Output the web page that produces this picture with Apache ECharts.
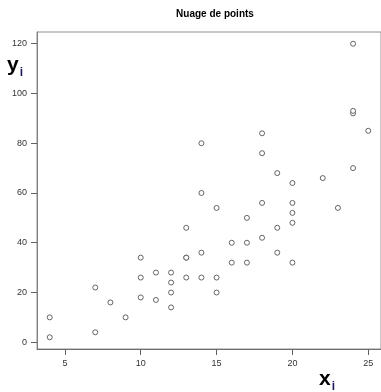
<!DOCTYPE html>
<html><head><meta charset="utf-8">
<script src="https://cdn.jsdelivr.net/npm/echarts@6/dist/echarts.min.js"></script>
<style>html,body{margin:0;padding:0;background:#fff}#c{width:381px;height:392px}</style>
</head><body><div id="c"></div>
<script>
var xValues = [4,4,7,7,8,9,10,10,10,11,11,12,12,12,12,13,13,13,13,14,14,14,14,15,15,15,16,16,17,17,17,18,18,18,18,19,19,19,20,20,20,20,20,22,23,24,24,24,24,25];
var yValues = [2,10,4,22,16,10,18,26,34,17,28,14,20,24,28,26,34,34,46,26,36,60,80,20,26,54,32,40,32,40,50,42,56,76,84,36,46,68,32,48,52,56,64,66,54,70,92,93,120,85];
var xTicks = [5,10,15,20,25];
var yTicks = [0,20,40,60,80,100,120];
var titleText = 'Nuage de points';

var pts = xValues.map(function(x,i){return [x,yValues[i]];});
var chart = echarts.init(document.getElementById('c'));
var font = 'Liberation Sans, Arial, sans-serif';
chart.setOption({
  animation:false,
  backgroundColor:'#fff',
  title:{text:titleText,left:210,top:4,textAlign:'center',
    textStyle:{fontSize:10,fontWeight:'bold',color:'#000',fontFamily:font}},
  grid:{left:37,top:32,width:346,height:317,show:true,borderColor:'#909090',borderWidth:1,containLabel:false},
  xAxis:{type:'value',min:3.16,max:25.84,
    axisLine:{show:true,onZero:false,lineStyle:{color:'#707070'}},
    axisTick:{show:true,inside:false,length:6,customValues:xTicks,lineStyle:{color:'#606060'}},
    axisLabel:{customValues:xTicks,color:'#333',fontSize:9,fontFamily:font,margin:10},
    splitLine:{show:false}},
  yAxis:{type:'value',min:-2.72,max:124.72,
    axisLine:{show:true,onZero:false,lineStyle:{color:'#808080'}},
    axisTick:{show:true,inside:false,length:6,customValues:yTicks,lineStyle:{color:'#606060'}},
    axisLabel:{customValues:yTicks,color:'#333',fontSize:9,fontFamily:font,margin:10},
    splitLine:{show:false}},
  graphic:[
    {type:'text',left:7,top:55,style:{text:'{a|y}{b|i}',rich:{
      a:{fontSize:21,fontWeight:'bold',fontFamily:font,fill:'#000'},
      b:{fontSize:12,fontWeight:'bold',fontFamily:font,fill:'#1a1a5a',padding:[14,0,0,1]}}}},
    {type:'text',left:319,top:369,style:{text:'{a|x}{b|i}',rich:{
      a:{fontSize:21,fontWeight:'bold',fontFamily:font,fill:'#000'},
      b:{fontSize:12,fontWeight:'bold',fontFamily:font,fill:'#1a1a5a',padding:[14,0,0,1]}}}}
  ],
  series:[{type:'scatter',data:pts,symbol:'circle',symbolSize:5,
    itemStyle:{color:'#fff',borderColor:'#555',borderWidth:0.9,opacity:1}}]
});
</script></body></html>
